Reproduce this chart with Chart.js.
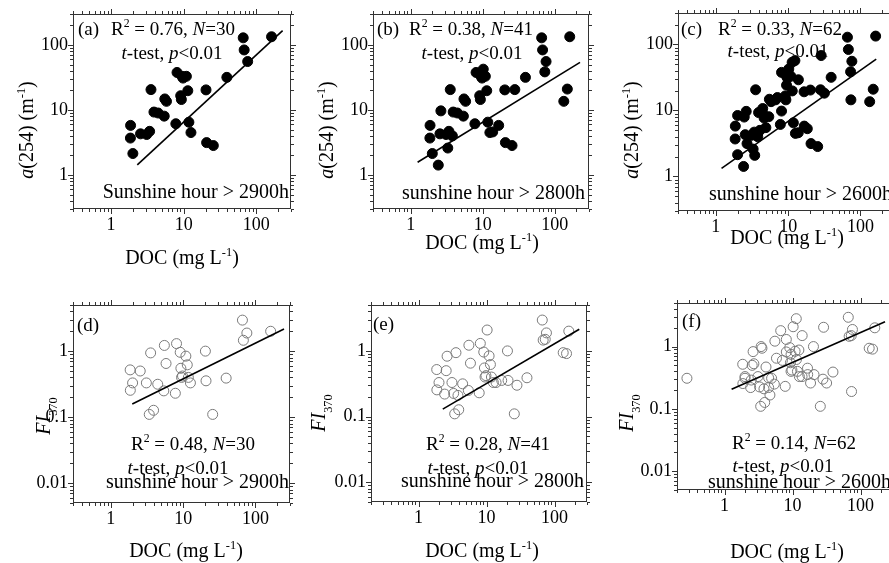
<!DOCTYPE html>
<html>
<head>
<meta charset="utf-8">
<script src="https://cdn.jsdelivr.net/npm/chart.js@4.4.1/dist/chart.umd.min.js"></script>
<style>
  html, body { margin: 0; padding: 0; background: #fff; }
  body { width: 889px; height: 563px; overflow: hidden; position: relative; }
  canvas { position: absolute; }
</style>
</head>
<body>
<script>
// DOC (mg/L), a(254) (1/m) and FI370 of each sample.
// First 30 samples: sunshine hour > 2900h, first 41: > 2800h, all 62: > 2600h
const doc = [
  1.85, 1.86, 2.0, 2.55, 3.1, 3.4, 3.55, 3.9, 4.45, 5.4,
  5.5, 5.8, 7.8, 8.1, 9.1, 9.3, 9.5, 9.8, 10.9, 11.4,
  11.8, 12.6, 20.3, 20.7, 25.6, 39.3, 66, 68, 76, 162,
  2.42, 2.63, 3.28, 3.8, 10.2, 13.8, 16.7, 28, 73, 134, 150,
  0.28, 2.0, 2.47, 2.7, 3.45, 4.07, 4.45, 4.65, 4.92, 6.7,
  7.1, 8.1, 9.5, 11.35, 12.4, 13.85, 16.6, 18.4, 28.6, 31.7, 73.7
];
const a254 = [
  3.7, 5.8, 2.14, 4.3, 4.2, 4.7, 20.6, 9.3, 9.0, 8.05,
  14.8, 13.6, 6.15, 37.8, 16.6, 14.5, 33, 31, 33, 19.8,
  6.5, 4.5, 20.4, 3.15, 2.84, 31.8, 129, 84, 55.7, 134,
  1.42, 9.7, 2.6, 4.0, 42.5, 4.6, 5.8, 20.6, 38.6, 13.6, 21,
  null, 8.4, 7.95, 3.15, 2.09, 5.0, 10.7, 7.7, 5.5, 14.5,
  15.7, 9.8, 24.2, 53.7, 57, 29.2, 19.2, 5.3, 68, 18.3, 14.5
];
const fi370 = [
  0.52, 0.255, 0.33, 0.5, 0.33, 0.11, 0.94, 0.127, 0.315, 0.25,
  1.22, 0.65, 0.23, 1.3, 0.96, 0.55, 0.4, 0.42, 0.84, 0.62,
  0.4, 0.33, 1.0, 0.355, 0.11, 0.39, 2.95, 1.46, 1.88, 2.0,
  0.22, 0.83, 0.225, 0.21, 2.08, 0.33, 0.355, 0.3, 1.5, 0.94, 0.91,
  0.31, 0.31, 0.29, 0.53, 1.0, 0.47, 0.22, 0.167, 0.31, 1.8,
  0.6, 0.82, 0.75, 2.8, 0.88, 1.5, 0.45, 0.26, 2.04, 0.26, 0.19
];
const groupSize = [30, 41, 62];
const hours = ['2900', '2800', '2600'];
const r2 = ['0.76', '0.38', '0.33', '0.48', '0.28', '0.14'];

// fitted lines, end points
const fitX = [[2.3, 230], [1.25, 225], [1.2, 165], [1.98, 248], [2.27, 231], [1.27, 229]];
const fitY = [[1.43, 166], [1.57, 54], [1.33, 60], [0.158, 2.16], [0.13, 2.14], [0.206, 2.5]];

const xTicks = [1, 10, 100];
const yTicksAbs = [1, 10, 100];
const yTicksFl = [0.01, 0.1, 1];

const serif = '"Liberation Serif", "Times New Roman", serif';
const PL = 80, PT = 20, PR = 20, PB = 85;

// page layout of every panel (frame box and text anchors, page pixels)
const panels = [
  { tag: '(a)', box: [73, 14, 291, 209], xr: [0.3, 300], yr: [0.3, 300],
    tagAt: [78, 35], statAt: [111, 35, 'left'], testAt: [172, 59], hourAt: [289, 198], xTitle: [182, 264], yTitle: [33, 130] },
  { tag: '(b)', box: [373, 14, 589, 209], xr: [0.3, 300], yr: [0.3, 300],
    tagAt: [377, 35], statAt: [409, 35, 'left'], testAt: [472, 59], hourAt: [585, 199], xTitle: [482, 249], yTitle: [333, 130] },
  { tag: '(c)', box: [678, 13, 895, 211], xr: [0.3, 300], yr: [0.3, 300],
    tagAt: [681, 35], statAt: [718, 35, 'left'], testAt: [778, 57], hourAt: [892, 200], xTitle: [787, 244], yTitle: [638, 130] },
  { tag: '(d)', box: [73, 305, 290, 503], xr: [0.3, 300], yr: [0.005, 5],
    tagAt: [77, 331], statAt: [193, 450, 'center'], testAt: [178, 474], hourAt: [289, 488], xTitle: [186, 557], yTitle: [50, 416] },
  { tag: '(e)', box: [371, 305, 587, 502], xr: [0.2, 300], yr: [0.005, 5],
    tagAt: [373, 330], statAt: [488, 450, 'center'], testAt: [478, 474], hourAt: [584, 487], xTitle: [482, 557], yTitle: [325, 413] },
  { tag: '(f)', box: [677, 303, 893, 490], xr: [0.2, 300], yr: [0.005, 5],
    tagAt: [682, 327], statAt: [794, 449, 'center'], testAt: [783, 472], hourAt: [891, 488], xTitle: [787, 558], yTitle: [633, 413] }
];

function tickText(v) {
  const e = Math.round(Math.log10(v));
  return e >= 0 ? String(Math.pow(10, e)) : Math.pow(10, e).toFixed(-e);
}

function logMarks(min, max) {
  const out = [];
  for (let e = Math.floor(Math.log10(min)); e <= Math.ceil(Math.log10(max)); e++) {
    for (let m = 1; m <= 9; m++) {
      const v = m * Math.pow(10, e);
      if (v >= min * 0.999 && v <= max * 1.001) out.push({ v: v, major: m === 1 });
    }
  }
  return out;
}

function segFont(s, size) {
  const sz = (s.sup || s.sub) ? size * 0.62 : size;
  return (s.i ? 'italic ' : '') + sz + 'px ' + serif;
}

function drawRich(ctx, segs, x, y, size, align) {
  let w = 0;
  segs.forEach(s => { ctx.font = segFont(s, size); w += ctx.measureText(s.t).width; });
  let cx = align === 'center' ? x - w / 2 : (align === 'right' ? x - w : x);
  ctx.textAlign = 'left';
  ctx.textBaseline = 'alphabetic';
  segs.forEach(s => {
    ctx.font = segFont(s, size);
    const dy = s.sup ? -size * 0.42 : (s.sub ? size * 0.33 : 0);
    ctx.fillText(s.t, cx, y + dy);
    cx += ctx.measureText(s.t).width;
  });
}

function makePanelPlugin(p, i, ox, oy) {
  const g = i % 3;
  const top = i < 3;
  return {
    id: 'panel' + i,
    beforeDatasetsDraw(chart) {
      const ctx = chart.ctx;
      ctx.save();
      ctx.fillStyle = '#000';
      drawRich(ctx, [{ t: p.tag }], p.tagAt[0] - ox, p.tagAt[1] - oy, 19, 'left');
      const stat = [{ t: 'R' }, { t: '2', sup: 1 }, { t: ' = ' + r2[i] + ', ' }, { t: 'N', i: 1 }, { t: '=' + groupSize[g] }];
      drawRich(ctx, stat, p.statAt[0] - ox, p.statAt[1] - oy, 19, p.statAt[2]);
      drawRich(ctx, [{ t: 't', i: 1 }, { t: '-test, ' }, { t: 'p', i: 1 }, { t: '<0.01' }],
        p.testAt[0] - ox, p.testAt[1] - oy, 19, 'center');
      const word = i === 0 ? 'Sunshine' : 'sunshine';
      drawRich(ctx, [{ t: word + ' hour > ' + hours[g] + 'h' }], p.hourAt[0] - ox, p.hourAt[1] - oy, 20, 'right');
      ctx.restore();
    },
    afterDraw(chart) {
      const ctx = chart.ctx;
      const a = chart.chartArea;
      const sx = chart.scales.x, sy = chart.scales.y;
      ctx.save();
      ctx.strokeStyle = '#333';
      ctx.lineWidth = 1;
      ctx.strokeRect(a.left + 0.5, a.top + 0.5, a.right - a.left - 1, a.bottom - a.top - 1);
      ctx.beginPath();
      logMarks(p.xr[0], p.xr[1]).forEach(m => {
        const px = Math.round(sx.getPixelForValue(m.v)) + 0.5;
        const len = m.major ? 5 : 3;
        ctx.moveTo(px, a.bottom); ctx.lineTo(px, a.bottom + len);
        ctx.moveTo(px, a.top); ctx.lineTo(px, a.top - len);
      });
      logMarks(p.yr[0], p.yr[1]).forEach(m => {
        const py = Math.round(sy.getPixelForValue(m.v)) + 0.5;
        const len = m.major ? 5 : 3;
        ctx.moveTo(a.left, py); ctx.lineTo(a.left - len, py);
        ctx.moveTo(a.right, py); ctx.lineTo(a.right + len, py);
      });
      ctx.stroke();

      // axis titles
      ctx.fillStyle = '#000';
      drawRich(ctx, [{ t: 'DOC (mg L' }, { t: '-1', sup: 1 }, { t: ')' }], p.xTitle[0] - ox, p.xTitle[1] - oy, 20, 'center');
      ctx.translate(p.yTitle[0] - ox, p.yTitle[1] - oy);
      ctx.rotate(-Math.PI / 2);
      const yt = top
        ? [{ t: 'a', i: 1 }, { t: '(254) (m' }, { t: '-1', sup: 1 }, { t: ')' }]
        : [{ t: 'FI', i: 1 }, { t: '370', sub: 1 }];
      drawRich(ctx, yt, 0, 0, 20, 'center');
      ctx.restore();
    }
  };
}

panels.forEach((p, i) => {
  const g = i % 3;
  const top = i < 3;
  const [l, t, r, b] = p.box;
  const ox = l - PL, oy = t - PT;
  const W = PL + (r - l) + PR, H = PT + (b - t) + PB;
  const cv = document.createElement('canvas');
  cv.width = W; cv.height = H;
  cv.style.left = ox + 'px'; cv.style.top = oy + 'px';
  cv.style.width = W + 'px'; cv.style.height = H + 'px';
  document.body.appendChild(cv);

  const yVals = top ? a254 : fi370;
  const pts = [];
  for (let k = 0; k < groupSize[g]; k++) {
    if (yVals[k] != null) pts.push({ x: doc[k], y: yVals[k] });
  }
  const fit = [{ x: fitX[i][0], y: fitY[i][0] }, { x: fitX[i][1], y: fitY[i][1] }];

  const tickFont = { family: serif, size: 18 };
  new Chart(cv, {
    type: 'scatter',
    data: {
      datasets: [
        { data: fit, showLine: true, borderColor: '#000', borderWidth: 1.6, pointRadius: 0, fill: false },
        { data: pts, showLine: false, pointRadius: 5,
          pointBackgroundColor: top ? '#000' : 'rgba(0,0,0,0)',
          pointBorderColor: top ? '#000' : '#7a7a7a', pointBorderWidth: 1 }
      ]
    },
    options: {
      responsive: false,
      animation: false,
      devicePixelRatio: 1,
      layout: { padding: { left: 0, top: PT, right: PR, bottom: 0 } },
      plugins: { legend: { display: false }, tooltip: { enabled: false } },
      scales: {
        x: {
          type: 'logarithmic', min: p.xr[0], max: p.xr[1],
          grid: { display: false, drawTicks: false }, border: { display: false },
          afterBuildTicks: s => { s.ticks = xTicks.map(v => ({ value: v })); },
          afterFit: s => { s.height = PB; },
          ticks: { autoSkip: false, maxRotation: 0, padding: 5, color: '#000', font: tickFont, callback: v => tickText(v) }
        },
        y: {
          type: 'logarithmic', min: p.yr[0], max: p.yr[1],
          grid: { display: false, drawTicks: false }, border: { display: false },
          afterBuildTicks: s => { s.ticks = (top ? yTicksAbs : yTicksFl).map(v => ({ value: v })); },
          afterFit: s => { s.width = PL; },
          ticks: { autoSkip: false, padding: 5, color: '#000', font: tickFont, callback: v => tickText(v) }
        }
      }
    },
    plugins: [makePanelPlugin(p, i, ox, oy)]
  });
});
</script>
</body>
</html>
